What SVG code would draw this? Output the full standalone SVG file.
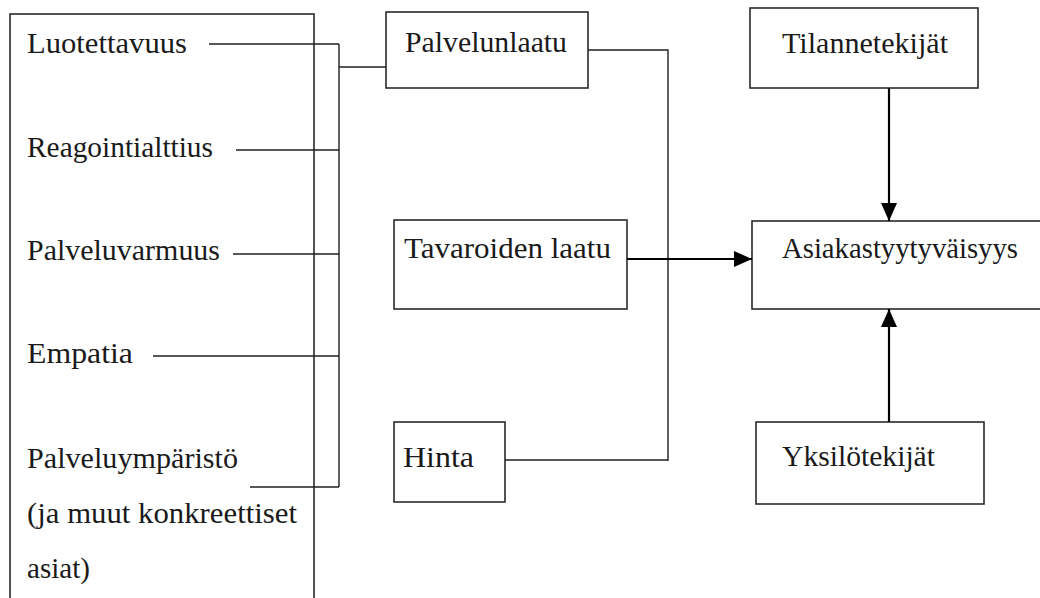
<svg xmlns="http://www.w3.org/2000/svg" width="1040" height="598" viewBox="0 0 1040 598">
  <style>
    .box { fill: #fff; stroke: #2a2a2a; stroke-width: 1.6; }
    .lbl { font-family: "Liberation Serif", "DejaVu Serif", serif; font-size: 29px; fill: #1a1a1a; }
    .thin { fill: none; stroke: #1f1f1f; stroke-width: 1.4; }
    .bold { fill: none; stroke: #000; stroke-width: 2.2; }
  </style>
  <defs>
    <marker id="arrow" markerUnits="userSpaceOnUse" markerWidth="18" markerHeight="16" viewBox="0 0 18 16" refX="18" refY="8" orient="auto">
      <path d="M0,0 L18,8 L0,16 Z" fill="#000"/>
    </marker>
  </defs>
  <rect width="1040" height="598" fill="#fff"/>

  <!-- quality dimensions -->
  <g id="dimensions">
    <rect class="box" x="10" y="14" width="304" height="600"/>
    <text class="lbl" x="27" y="53" textLength="160" lengthAdjust="spacingAndGlyphs">Luotettavuus</text>
    <text class="lbl" x="27" y="157" textLength="186" lengthAdjust="spacingAndGlyphs">Reagointialttius</text>
    <text class="lbl" x="27" y="260" textLength="193" lengthAdjust="spacingAndGlyphs">Palveluvarmuus</text>
    <text class="lbl" x="27" y="363" textLength="106" lengthAdjust="spacingAndGlyphs">Empatia</text>
    <text class="lbl" x="27" y="468" textLength="211" lengthAdjust="spacingAndGlyphs">Palveluympäristö</text>
    <text class="lbl" x="27" y="523" textLength="270" lengthAdjust="spacingAndGlyphs">(ja muut konkreettiset</text>
    <text class="lbl" x="27" y="578" textLength="63" lengthAdjust="spacingAndGlyphs">asiat)</text>
  </g>

  <g id="palvelunlaatu">
    <rect class="box" x="386" y="12" width="202" height="76"/>
    <text class="lbl" x="405" y="52" textLength="162" lengthAdjust="spacingAndGlyphs">Palvelunlaatu</text>
  </g>

  <g id="tavaroiden-laatu">
    <rect class="box" x="394" y="220" width="233" height="89"/>
    <text class="lbl" x="404" y="258" textLength="207" lengthAdjust="spacingAndGlyphs">Tavaroiden laatu</text>
  </g>

  <g id="hinta">
    <rect class="box" x="394" y="422" width="111" height="80"/>
    <text class="lbl" x="403" y="467" textLength="71" lengthAdjust="spacingAndGlyphs">Hinta</text>
  </g>

  <g id="tilannetekijat">
    <rect class="box" x="750" y="8" width="228" height="80"/>
    <text class="lbl" x="782" y="53" textLength="166" lengthAdjust="spacingAndGlyphs">Tilannetekijät</text>
  </g>

  <g id="asiakastyytyvaisyys">
    <rect class="box" x="752" y="221" width="300" height="88"/>
    <text class="lbl" x="782" y="258" textLength="236" lengthAdjust="spacingAndGlyphs">Asiakastyytyväisyys</text>
  </g>

  <g id="yksilotekijat">
    <rect class="box" x="756" y="422" width="228" height="82"/>
    <text class="lbl" x="782" y="466" textLength="153" lengthAdjust="spacingAndGlyphs">Yksilötekijät</text>
  </g>

  <g id="connectors">
    <!-- dimension ticks into the collecting bus -->
    <path class="thin" d="M209,44 H339"/>
    <path class="thin" d="M236,150 H339"/>
    <path class="thin" d="M233,254 H339"/>
    <path class="thin" d="M153,356 H339"/>
    <path class="thin" d="M250,487 H339"/>
    <path class="thin" d="M339,44 V487"/>
    <path class="thin" d="M339,67 H386"/>
    <!-- service quality and price joined on a common rail -->
    <path class="thin" d="M588,50 H668 V461"/>
    <path class="thin" d="M505,460 H668"/>
    <!-- arrows into customer satisfaction -->
    <path class="bold" d="M627,259 H752" marker-end="url(#arrow)"/>
    <path class="bold" d="M889,88 V221" marker-end="url(#arrow)"/>
    <path class="bold" d="M889,422 V309" marker-end="url(#arrow)"/>
  </g>
</svg>
